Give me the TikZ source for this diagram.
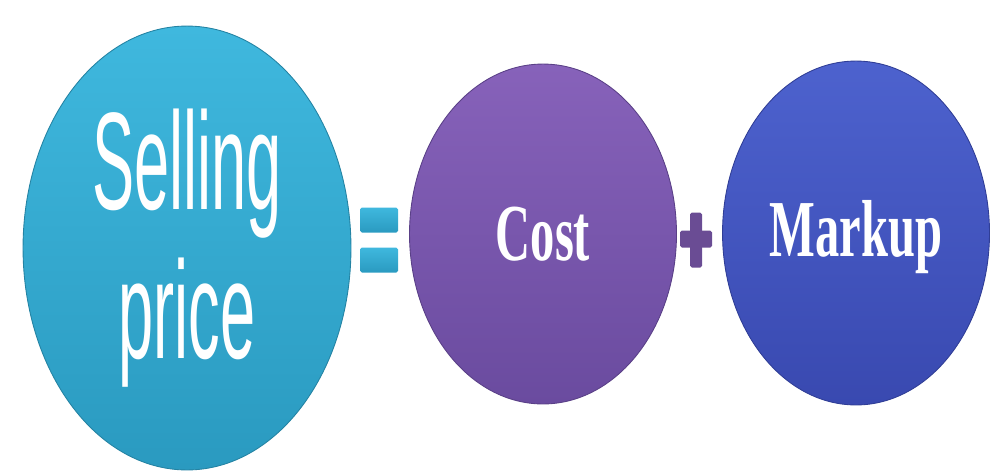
\documentclass[tikz,border=0pt]{standalone}
\usepackage{fontspec}
\usetikzlibrary{shapes,positioning}
\newfontfamily\spfont[FakeStretch=0.455]{Liberation Sans}
\newfontfamily\cmfont[FakeStretch=0.6]{Liberation Serif}
\definecolor{tealtop}{HTML}{3FB8DE}
\definecolor{tealbot}{HTML}{2A9AC0}
\definecolor{purptop}{HTML}{8762BA}
\definecolor{purpbot}{HTML}{6A4B9F}
\definecolor{bluetop}{HTML}{4D62CE}
\definecolor{bluebot}{HTML}{3949B0}
\definecolor{plusc}{HTML}{6A4C94}
\tikzset{oval/.style={ellipse, inner sep=0, text=white, align=center, line width=.5pt},
	bar/.style={rectangle, inner sep=0, rounded corners=1pt}}
\newcommand{\drawoval}{\node[oval]}
\newcommand{\drawbar}{\node[bar]}

\begin{document}
\begin{tikzpicture}[x=0.02cm,y=-0.02cm]
	\useasboundingbox (0,0) rectangle (999,474);
	
	\drawoval (sp) [top color=tealtop, bottom color=tealbot, draw=tealbot!85!black, minimum width=6.56cm, minimum height=8.88cm,
		font=\spfont\fontsize{79}{84.5}\selectfont] at (187,248) {Selling\\price};
	\drawoval (cost) [top color=purptop, bottom color=purpbot, draw=purpbot!85!black, minimum width=5.34cm, minimum height=6.8cm,
		font=\cmfont\bfseries\fontsize{46}{50}\selectfont] at (543,234) {Cost};
	\drawoval (mk) [top color=bluetop, bottom color=bluebot, draw=bluebot!85!black, minimum width=5.34cm, minimum height=6.88cm,
		text depth=5pt, font=\cmfont\bfseries\fontsize{46}{50}\selectfont] at (856,233) {Markup};
	
	% = sign
	\drawbar (eqa) [top color=tealtop, bottom color=tealbot, minimum width=0.76cm, minimum height=0.5cm] at (379,220) {};
	\drawbar (eqb) [top color=tealtop, bottom color=tealbot, minimum width=0.76cm, minimum height=0.5cm] at (379,260) {};
	
	% + sign
	\drawbar (plv) [fill=plusc, minimum width=0.24cm, minimum height=1.1cm] at (696,240) {};
	\drawbar (plh) [fill=plusc, minimum width=0.64cm, minimum height=0.34cm] at (696,239) {};
	
\end{tikzpicture}
\end{document}
